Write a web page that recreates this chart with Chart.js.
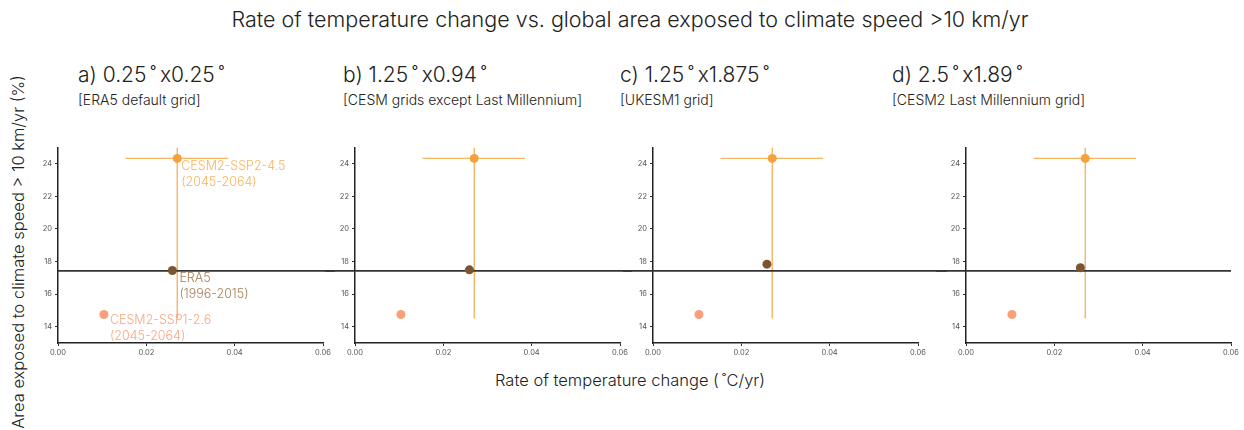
<!DOCTYPE html>
<html>
<head>
<meta charset="utf-8">
<script src="https://cdn.jsdelivr.net/npm/chart.js@4/dist/chart.umd.min.js"></script>
<style>
  body { margin: 0; background: #fff; font-family: Inter, "Noto Sans", sans-serif; font-weight: 300; color: #222; }
  #fig { position: relative; width: 1244px; height: 430px; overflow: hidden; }
  .txt { position: absolute; white-space: nowrap; }
  canvas { position: absolute; }
</style>
</head>
<body>
<div id="fig">
  <div class="txt" id="suptitle" style="left:0;width:1260px;top:6px;text-align:center;font-size:21.5px;">Rate of temperature change vs. global area exposed to climate speed &gt;10 km/yr</div>
  <div class="txt" style="left:0;width:1260px;top:370px;text-align:center;font-size:16.5px;">Rate of temperature change (&thinsp;˚C/yr)</div>
  <div class="txt" style="left:18px;top:252px;font-size:16.5px;transform:translate(-50%,-50%) rotate(-90deg);">Area exposed to climate speed &gt; 10 km/yr (%)</div>
</div>
<script>
// --- data ---
var panelTitles = ['a) 0.25\u2009˚\u2009x0.25\u2009˚', 'b) 1.25\u2009˚\u2009x0.94\u2009˚', 'c) 1.25\u2009˚\u2009x1.875\u2009˚', 'd) 2.5\u2009˚\u2009x1.89\u2009˚'];
var panelSubtitles = ['[ERA5 default grid]', '[CESM grids except Last Millennium]', '[UKESM1 grid]', '[CESM2 Last Millennium grid]'];

// ERA5 (1996-2015), one value per panel
var era5Rate = [0.0259, 0.0259, 0.0258, 0.0259];
var era5Area = [17.45, 17.49, 17.84, 17.62];

// CESM2-SSP2-4.5 (2045-2064), same in every panel
var ssp245Rate = [0.027, 0.027, 0.027, 0.027];
var ssp245Area = [24.33, 24.33, 24.33, 24.33];
var ssp245RateErr = [0.0153, 0.0385];   // low, high
var ssp245AreaErr = [14.5, 25];          // low, high (clipped at top)

// CESM2-SSP1-2.6 (2045-2064)
var ssp126Rate = [0.0104, 0.0104, 0.0104, 0.0104];
var ssp126Area = [14.75, 14.75, 14.75, 14.75];

// ERA5 reference level across all panels
var refLevel = 17.43;

var xTicks = [0, 0.02, 0.04, 0.06];
var yTicks = [14, 16, 18, 20, 22, 24];

// --- layout ---
var plotLeft = [58, 354.5, 652.7, 966];
var plotW = 265.5;
var yAxisW = 30;
var extraRight = [12, 12, 30, 13];
var refFrom = [0, -0.0068, -0.0068, -0.0068];
var refTo = [0.0628, 0.0628, 0.0665, 0.06];

var cOrange = '#f6a23c', cOrangeBar = '#f8b465', cBrown = '#7b5530', cSalmon = '#f7a07a';

var fig = document.getElementById('fig');

function addText(txt, left, top, size) {
  var d = document.createElement('div');
  d.className = 'txt';
  d.style.left = left + 'px';
  d.style.top = top + 'px';
  d.style.fontSize = size + 'px';
  d.textContent = txt;
  fig.appendChild(d);
}

var titleLeft = [78, 343, 620, 892];
for (var i = 0; i < 4; i++) {
  addText(panelTitles[i], titleLeft[i], 62, 21);
  addText(panelSubtitles[i], titleLeft[i], 91, 14);
}

// labels next to the points, only in panel a
var labelPlugin = {
  id: 'pointLabels',
  afterDatasetsDraw: function (chart) {
    if (chart.options.plugins.pointLabels.show !== true) return;
    var xs = chart.scales.x, ys = chart.scales.y, c = chart.ctx;
    var items = [
      { x: ssp245Rate[0], y: ssp245Area[0], dx: 4, dy: 8, col: '#f8b460', lines: ['CESM2-SSP2-4.5', '(2045-2064)'] },
      { x: era5Rate[0], y: era5Area[0], dx: 7, dy: 8, col: '#a67e55', lines: ['ERA5', '(1996-2015)'] },
      { x: ssp126Rate[0], y: ssp126Area[0], dx: 6, dy: 6, col: '#f7a882', lines: ['CESM2-SSP1-2.6', '(2045-2064)'] }
    ];
    c.save();
    c.font = '300 12.5px Inter, "Noto Sans", sans-serif';
    c.textBaseline = 'middle';
    c.textAlign = 'left';
    items.forEach(function (it) {
      var px = xs.getPixelForValue(it.x) + it.dx;
      var py = ys.getPixelForValue(it.y) + it.dy;
      c.fillStyle = it.col;
      it.lines.forEach(function (l, k) { c.fillText(l, px, py + k * 15.5); });
    });
    c.restore();
  }
};

function makePanel(i) {
  var cv = document.createElement('canvas');
  var w = yAxisW + plotW + extraRight[i];
  var h = 6 + 197 + 20;
  cv.width = w; cv.height = h;
  cv.style.left = (plotLeft[i] - yAxisW) + 'px';
  cv.style.top = '140px';
  fig.appendChild(cv);

  var pt = function (x, y) { return { x: x, y: y }; };
  new Chart(cv.getContext('2d'), {
    type: 'scatter',
    data: {
      datasets: [
        { data: [pt(ssp245Rate[i], ssp245Area[i])], backgroundColor: cOrange, borderWidth: 0, pointRadius: 4.5 },
        { data: [pt(era5Rate[i], era5Area[i])], backgroundColor: cBrown, borderWidth: 0, pointRadius: 4.5 },
        { data: [pt(ssp126Rate[i], ssp126Area[i])], backgroundColor: cSalmon, borderWidth: 0, pointRadius: 4.5 },
        { data: [pt(refFrom[i], refLevel), pt(refTo[i], refLevel)], showLine: true, pointRadius: 0, borderColor: '#333', borderWidth: 1.6, clip: false },
        { data: [pt(ssp245RateErr[0], ssp245Area[i]), pt(ssp245RateErr[1], ssp245Area[i])], showLine: true, pointRadius: 0, borderColor: cOrangeBar, borderWidth: 1.4 },
        { data: [pt(ssp245Rate[i], ssp245AreaErr[0]), pt(ssp245Rate[i], ssp245AreaErr[1])], showLine: true, pointRadius: 0, borderColor: cOrangeBar, borderWidth: 1.4 }
      ]
    },
    options: {
      responsive: false,
      animation: false,
      devicePixelRatio: 1,
      layout: { padding: { top: 6, right: extraRight[i], left: 0, bottom: 0 } },
      plugins: { legend: { display: false }, tooltip: { enabled: false }, pointLabels: { show: i === 0 } },
      scales: {
        x: {
          type: 'linear', min: 0, max: 0.06,
          afterBuildTicks: function (s) { s.ticks = xTicks.map(function (v) { return { value: v }; }); },
          afterFit: function (s) { s.height = 20; },
          grid: { drawOnChartArea: false, tickLength: 3, color: '#333' },
          border: { color: '#222', width: 1.5 },
          ticks: { font: { size: 7.5, family: 'Inter' }, color: '#555', padding: 2, maxRotation: 0,
            callback: function (v) { return v.toFixed(2); } }
        },
        y: {
          type: 'linear', min: 13, max: 25,
          afterBuildTicks: function (s) { s.ticks = yTicks.map(function (v) { return { value: v }; }); },
          afterFit: function (s) { s.width = yAxisW; },
          grid: { drawOnChartArea: false, tickLength: 3, color: '#333' },
          border: { color: '#222', width: 1.5 },
          ticks: { font: { size: 7.5, family: 'Inter' }, color: '#555', padding: 3 }
        }
      }
    },
    plugins: [labelPlugin]
  });
}

for (var j = 0; j < 4; j++) makePanel(j);
</script>
</body>
</html>
